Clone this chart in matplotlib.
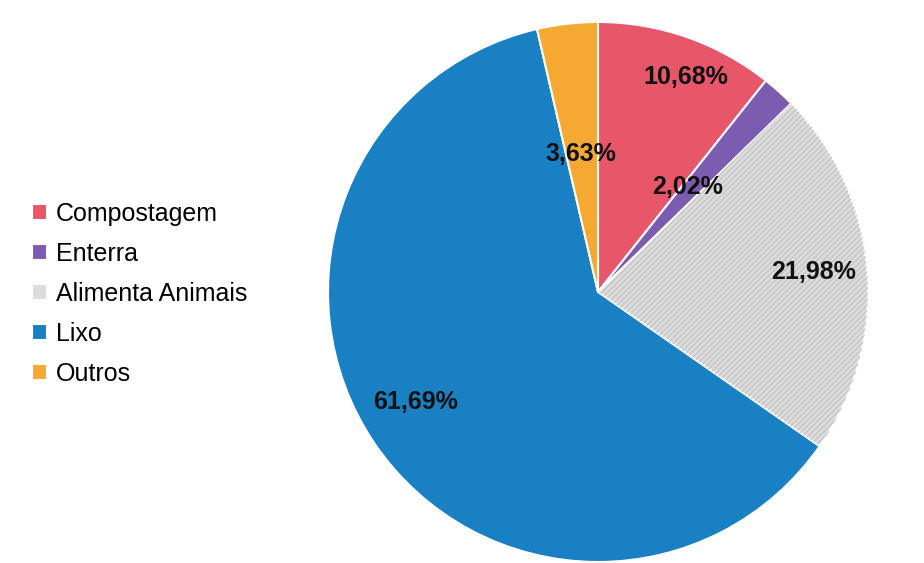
import numpy as np
import matplotlib.pyplot as plt
from matplotlib.patches import Wedge

plt.rcParams['font.family'] = ['Liberation Sans', 'DejaVu Sans']

categorias = ['Compostagem', 'Enterra', 'Alimenta Animais', 'Lixo', 'Outros']
valores = [10.68, 2.02, 21.98, 61.69, 3.63]
rotulos = ['10,68%', '2,02%', '21,98%', '61,69%', '3,63%']
cores = ['#E8566A', '#7B5CB0', '#DCDCDC', '#1A80C4', '#F5A932']

# distancia dos rotulos ao centro (fracao do raio) e deslocamento angular
dist_rot = [0.86, 0.51, 0.80, 0.79, 0.515]
desl_ang = [-3, 1.5, 0.6, -3.1, 0.5]

W, H = 924, 563
fig = plt.figure(figsize=(W / 100, H / 100), dpi=100)
cx, cy, r = 598, 292, 270
ax = fig.add_axes([(cx - r) / W, (H - cy - r) / H, 2 * r / W, 2 * r / H])

wedges, _ = ax.pie(valores, colors=cores, startangle=90, counterclock=False,
                   radius=1, labels=None,
                   wedgeprops=dict(edgecolor='white', linewidth=1.5))

# textura da fatia cinza
w = wedges[2]
ax.add_patch(Wedge((0, 0), 1, w.theta1, w.theta2, facecolor='none',
                   edgecolor='#c6c6c6', linewidth=0, hatch='//////'))

for i, wd in enumerate(wedges):
    ang = np.deg2rad((wd.theta1 + wd.theta2) / 2 + desl_ang[i])
    x = dist_rot[i] * np.cos(ang)
    y = dist_rot[i] * np.sin(ang)
    ax.text(x, y, rotulos[i], ha='center', va='center', fontsize=18,
            fontweight='bold', color='#111111')

ax.set_xlim(-1, 1)
ax.set_ylim(-1, 1)
ax.set_aspect('equal')
ax.axis('off')

fig.legend(wedges, categorias, loc='upper left', bbox_to_anchor=(32 / W, 1 - 202 / H),
           frameon=False, fontsize=18, handlelength=0.6, handleheight=0.6,
           handletextpad=0.35, labelspacing=0.64, borderaxespad=0, borderpad=0)

fig.savefig('out.png', dpi=100)
